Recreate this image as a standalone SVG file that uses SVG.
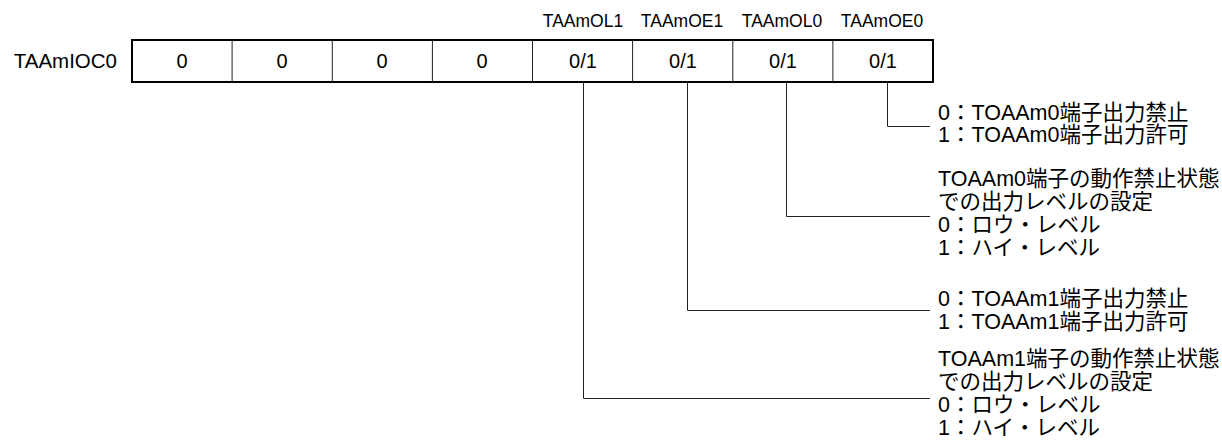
<svg xmlns="http://www.w3.org/2000/svg" width="1222" height="447" viewBox="0 0 1222 447">
<style>
  .t { font-family: "Liberation Sans", "Noto Sans CJK JP", sans-serif; fill: #000; }
  .reg { font-size: 20.5px; }
  .cell { font-size: 20px; text-anchor: middle; }
  .hdr { font-size: 17.5px; text-anchor: middle; }
  .desc { font-size: 21.5px; }
  .div { stroke: #222; stroke-width: 1; fill: none; }
  .lead { stroke: #222; stroke-width: 1; fill: none; }
</style>
<rect width="1222" height="447" fill="#fff"/>
<g id="register">
  <text class="t reg" x="117" y="68" text-anchor="end">TAAmIOC0</text>
  <rect x="132" y="40" width="801" height="42" fill="#fff" stroke="#000" stroke-width="2"/>
  <path class="div" d="M232.1 40V82M332.3 40V82M432.4 40V82M532.5 40V82M632.6 40V82M732.8 40V82M832.9 40V82"/>
  <text class="t cell" x="182" y="68">0</text>
  <text class="t cell" x="282" y="68">0</text>
  <text class="t cell" x="382" y="68">0</text>
  <text class="t cell" x="482" y="68">0</text>
  <text class="t cell" x="583" y="68">0/1</text>
  <text class="t cell" x="683" y="68">0/1</text>
  <text class="t cell" x="783" y="68">0/1</text>
  <text class="t cell" x="883" y="68">0/1</text>
</g>
<g id="headers">
  <text class="t hdr" x="583" y="27">TAAmOL1</text>
  <text class="t hdr" x="682" y="27">TAAmOE1</text>
  <text class="t hdr" x="782" y="27">TAAmOL0</text>
  <text class="t hdr" x="882" y="27">TAAmOE0</text>
</g>
<g id="connectors">
  <path class="lead" d="M887.5 82V126.5H930"/>
  <path class="lead" d="M786.5 82V216.5H930"/>
  <path class="lead" d="M687.5 82V310.5H930"/>
  <path class="lead" d="M583.5 82V398.5H930"/>
</g>
<g id="desc-OE0">
  <text class="t desc" x="938" y="120">0：TOAAm0端子出力禁止</text>
  <text class="t desc" x="938" y="142">1：TOAAm0端子出力許可</text>
</g>
<g id="desc-OL0">
  <text class="t desc" x="938" y="186">TOAAm0端子の動作禁止状態</text>
  <text class="t desc" x="938" y="209">での出力レベルの設定</text>
  <text class="t desc" x="938" y="232">0：ロウ・レベル</text>
  <text class="t desc" x="938" y="255">1：ハイ・レベル</text>
</g>
<g id="desc-OE1">
  <text class="t desc" x="938" y="306">0：TOAAm1端子出力禁止</text>
  <text class="t desc" x="938" y="329">1：TOAAm1端子出力許可</text>
</g>
<g id="desc-OL1">
  <text class="t desc" x="938" y="366">TOAAm1端子の動作禁止状態</text>
  <text class="t desc" x="938" y="389">での出力レベルの設定</text>
  <text class="t desc" x="938" y="412">0：ロウ・レベル</text>
  <text class="t desc" x="938" y="435">1：ハイ・レベル</text>
</g>
</svg>
